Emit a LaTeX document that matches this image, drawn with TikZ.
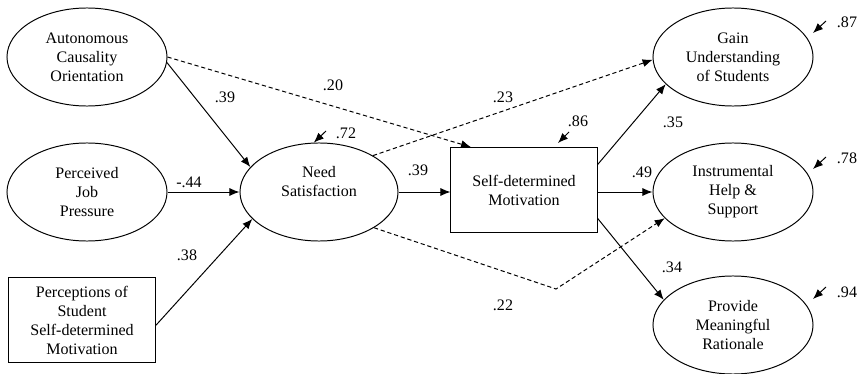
\documentclass[tikz,border=0pt]{standalone}
\usepackage{fontspec}
\setmainfont{Liberation Serif}
\usetikzlibrary{shapes.geometric,arrows.meta}

\begin{document}
\begin{tikzpicture}[x=0.025cm,y=-0.025cm,line width=0.7pt,
  font=\fontsize{11.4}{13.5}\selectfont,
  latent/.style={draw,ellipse,minimum width=4cm,minimum height=2.45cm,inner sep=0pt,align=center},
  observed/.style={draw,rectangle,minimum width=3.65cm,minimum height=2.12cm,inner sep=0pt,align=center},
  effect/.style={-{Latex[length=0.25cm,width=0.2cm]}},
  weak/.style={dash pattern=on 3pt off 2pt},
  coef/.style={inner sep=0pt}]
  \useasboundingbox (0,0) rectangle (857,374);

  \node[latent] (auto) at (87,57) {Autonomous\\Causality\\Orientation};
  \node[latent] (pressure) at (87,192) {Perceived\\Job\\Pressure};
  \node[observed,minimum width=3.675cm] (percep) at (82,320) {Perceptions of\\Student\\Self-determined\\Motivation};
  \node[latent,minimum width=3.95cm] (need) at (319,192) {};
  \node[align=center] (needtext) at (319,182) {Need\\Satisfaction};
  \node[observed] (selfmot) at (524,190) {Self-determined\\Motivation};
  \node[latent] (gain) at (733,57) {Gain\\Understanding\\of Students};
  \node[latent] (help) at (733,192) {Instrumental\\Help \&\\Support};
  \node[latent] (rationale) at (733,325) {Provide\\Meaningful\\Rationale};
  \coordinate (bend) at (556,289);

  \draw[effect] (auto.-4) -- (need.160);
  \draw[effect] (pressure.east) -- (need.west);
  \draw[effect] (percep.-4) -- (need.202);
  \draw[effect,weak] (auto.east) -- (selfmot.141);
  \draw[effect] (need.east) -- (need.east -| selfmot.west);
  \draw[effect,weak] (need.34) -- (gain.182);
  \draw[effect,weak] (need.-33) -- (bend) -- (help.201);
  \draw[effect] (selfmot.19) -- (gain.202);
  \draw[effect] (help.west -| selfmot.east) -- (help.west);
  \draw[effect] (selfmot.-21) -- (rationale.160);

  \coordinate (r72) at (326,131);
  \coordinate (r86) at (569,132);
  \coordinate (e86) at (558,143);
  \coordinate (r87) at (826,21);
  \coordinate (e87) at (813,33);
  \coordinate (r78) at (826,157);
  \coordinate (e78) at (813,169);
  \coordinate (r94) at (826,287);
  \coordinate (e94) at (813,299);
  \draw[effect] (r72) -- (need.96);
  \draw[effect] (r86) -- (e86);
  \draw[effect] (r87) -- (e87);
  \draw[effect] (r78) -- (e78);
  \draw[effect] (r94) -- (e94);

  \node[coef] (c72) at (346,133) {.72};
  \node[coef] (c86) at (578,121) {.86};
  \node[coef] (c87) at (847,22) {.87};
  \node[coef] (c78) at (847,158) {.78};
  \node[coef] (c94) at (847,292) {.94};
  \node[coef] (c39a) at (225,97) {.39};
  \node[coef] (c44) at (189,182) {-.44};
  \node[coef] (c38) at (187,255) {.38};
  \node[coef] (c20) at (333,85) {.20};
  \node[coef] (c23) at (503,97) {.23};
  \node[coef] (c39b) at (418,170) {.39};
  \node[coef] (c22) at (503,305) {.22};
  \node[coef] (c35) at (673,122) {.35};
  \node[coef] (c49) at (642,172) {.49};
  \node[coef] (c34) at (672,267) {.34};
\end{tikzpicture}
\end{document}
